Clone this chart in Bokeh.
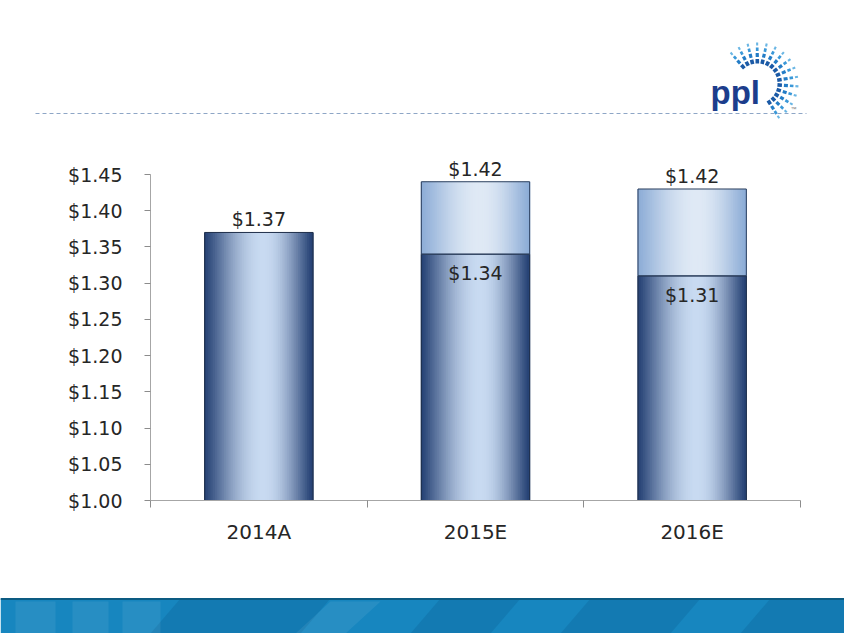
import math
from bokeh.plotting import figure
from bokeh.models import ColumnDataSource, Range1d, FixedTicker, NumeralTickFormatter, LinearAxis
from bokeh.core.properties import value
from bokeh.embed import file_html
from bokeh.resources import INLINE

# ---------------- data ----------------
categories = ["2014A", "2015E", "2016E"]
base_values = [1.37, 1.34, 1.31]          # actual EPS / low end of range
upper_values = [None, 1.44, 1.43]         # top of the forecast range segment
top_labels = ["$1.37", "$1.42", "$1.42"]
inner_labels = ["", "$1.34", "$1.31"]
y_ticks = [1.00, 1.05, 1.10, 1.15, 1.20, 1.25, 1.30, 1.35, 1.40, 1.45]
axis_min = 1.00
axis_max = 1.45

# ---------------- page layout (pixels) ----------------
W, H = 844, 633
AX_LEFT, AX_RIGHT = 150, 800      # pixel x of category-axis start / end
AX_BOTTOM, AX_TOP = 500, 174      # pixel y of axis_min / axis_max
n_cat = len(categories)
sx = (AX_RIGHT - AX_LEFT) / n_cat
sy = (AX_BOTTOM - AX_TOP) / (axis_max - axis_min)

FONT = "DejaVu Sans"
TXT = "#262626"

p = figure(width=W, height=H,
           x_range=Range1d((0 - AX_LEFT) / sx, (W - AX_LEFT) / sx),
           y_range=Range1d(axis_min + (AX_BOTTOM - H) / sy, axis_min + AX_BOTTOM / sy),
           x_axis_location=None, y_axis_location=None,
           output_backend="svg", toolbar_location=None, min_border=0)
p.extra_x_ranges = {"px": Range1d(0, W)}
p.extra_y_ranges = {"py": Range1d(H, 0)}
p.grid.visible = False
p.outline_line_color = None
p.background_fill_color = "white"
p.border_fill_color = "white"

# ---------------- header: logo + dashed rule ----------------
cx, cy = 757, 83
ray_angles = [131 - k * 13.5 for k in range(15)]
ray_parts = [((20, 24.5), "#1b5aa6", 3.6), ((26.5, 30.5), "#237cc6", 3.2),
             ((32.5, 36), "#3a98d8", 2.7), ((38, 41), "#6ab6e4", 2.1)]
for (r0, r1), col, lw in ray_parts:
    x0s, y0s, x1s, y1s = [], [], [], []
    for a in ray_angles:
        ar = math.radians(a)
        x0s.append(cx + r0 * math.cos(ar)); y0s.append(cy - r0 * math.sin(ar))
        x1s.append(cx + r1 * math.cos(ar)); y1s.append(cy - r1 * math.sin(ar))
    p.segment(x0=x0s, y0=y0s, x1=x1s, y1=y1s, line_color=col, line_width=lw,
              x_range_name="px", y_range_name="py")

p.text(x=[710], y=[92], text=["ppl"], text_font=value("Liberation Sans"),
       text_font_style="bold", text_font_size="33px", text_color="#1c3d8c",
       text_baseline="alphabetic", text_align="left", x_range_name="px", y_range_name="py")
p.text(x=[790], y=[108], text=["™"], text_font=value("Liberation Sans"),
       text_font_size="6px", text_color="#777777", text_baseline="alphabetic",
       x_range_name="px", y_range_name="py")
p.line(x=[35, 806], y=[113, 113], line_color="#8ea6c6", line_width=1, line_dash="4 3",
       x_range_name="px", y_range_name="py")

# ---------------- footer banner ----------------
p.quad(left=[0], right=[W], top=[598], bottom=[H], fill_color="#1786bf", line_color=None,
       x_range_name="px", y_range_name="py")
p.patches(xs=[[180, 330, 300, 150], [440, 520, 490, 410], [590, 700, 670, 560], [770, 844, 844, 740]],
          ys=[[598, 598, 633, 633]] * 4,
          fill_color="#0b5f90", fill_alpha=0.28, line_color=None,
          x_range_name="px", y_range_name="py")
p.patches(xs=[[15, 55, 55, 15], [72, 108, 108, 72], [122, 160, 160, 122], [330, 380, 345, 295]],
          ys=[[601, 601, 633, 633]] * 4,
          fill_color="#ffffff", fill_alpha=0.07, line_color=None,
          x_range_name="px", y_range_name="py")
p.segment(x0=[0], y0=[598.5], x1=[W], y1=[598.5], line_color="#0c5b82", line_width=2,
          x_range_name="px", y_range_name="py")

# ---------------- bars with horizontal gradient ----------------
xs = [i + 0.5 for i in range(n_cat)]
BW = 0.5
N = 60


def shade(t, dark, light, peak=0.55):
    u = t / peak if t < peak else (1 - t) / (1 - peak)
    s = math.sin(u * math.pi / 2) ** 1.15
    rgb = [round(d + (l - d) * s) for d, l in zip(dark, light)]
    return "#%02x%02x%02x" % tuple(rgb)


LOW_DARK, LOW_LIGHT = (36, 64, 115), (200, 218, 241)
UP_DARK, UP_LIGHT = (140, 172, 214), (223, 233, 245)

sxs, sb, st, sc = [], [], [], []
for i, x in enumerate(xs):
    for k in range(N):
        t = (k + 0.5) / N
        xx = x - BW / 2 + t * BW
        sxs.append(xx); sb.append(axis_min); st.append(base_values[i])
        sc.append(shade(t, LOW_DARK, LOW_LIGHT))
        if upper_values[i] is not None:
            sxs.append(xx); sb.append(base_values[i]); st.append(upper_values[i])
            sc.append(shade(t, UP_DARK, UP_LIGHT))
strips = ColumnDataSource(dict(x=sxs, bottom=sb, top=st, color=sc))
p.vbar(x="x", bottom="bottom", top="top", width=BW / N * 1.6, source=strips,
       fill_color="color", line_color=None)

# outlines
p.vbar(x=xs, width=BW, bottom=axis_min, top=base_values, fill_color=None,
       line_color="#1f2f4a", line_width=1)
ux = [x for x, u in zip(xs, upper_values) if u is not None]
ub = [b for b, u in zip(base_values, upper_values) if u is not None]
ut = [u for u in upper_values if u is not None]
p.vbar(x=ux, width=BW, bottom=ub, top=ut, fill_color=None,
       line_color="#2b3f5e", line_width=1)

# data labels
label_y = [u if u is not None else b for b, u in zip(base_values, upper_values)]
p.text(x=xs, y=label_y, text=top_labels, text_font=value(FONT), text_font_size="19px",
       text_color=TXT, text_align="center", text_baseline="alphabetic", y_offset=-13)
ix = [x for x, s in zip(xs, inner_labels) if s]
iy = [b for b, s in zip(base_values, inner_labels) if s]
it = [s for s in inner_labels if s]
p.text(x=ix, y=iy, text=it, text_font=value(FONT), text_font_size="19px",
       text_color=TXT, text_align="center", text_baseline="alphabetic", y_offset=19)

# ---------------- axes ----------------
xaxis = LinearAxis(fixed_location=axis_min)
xaxis.ticker = FixedTicker(ticks=xs, minor_ticks=list(range(n_cat + 1)))
xaxis.major_label_overrides = {x: c for x, c in zip(xs, categories)}
xaxis.bounds = (0, n_cat)
xaxis.axis_line_color = "#a6a6a6"
xaxis.major_tick_line_color = None
xaxis.major_tick_out = 7
xaxis.major_tick_in = 0
xaxis.minor_tick_out = 7
xaxis.minor_tick_in = 0
xaxis.minor_tick_line_color = "#8c8c8c"
xaxis.major_label_standoff = 12
xaxis.major_label_text_font = FONT
xaxis.major_label_text_font_size = "20px"
xaxis.major_label_text_color = TXT
p.add_layout(xaxis, "below")

yaxis = LinearAxis(fixed_location=0)
yaxis.ticker = FixedTicker(ticks=y_ticks)
yaxis.formatter = NumeralTickFormatter(format="$0.00")
yaxis.bounds = (axis_min, axis_max)
yaxis.axis_line_color = "#a6a6a6"
yaxis.major_tick_line_color = "#8c8c8c"
yaxis.major_tick_out = 6
yaxis.major_tick_in = 0
yaxis.minor_tick_line_color = None
yaxis.major_label_standoff = 22
yaxis.major_label_text_font = FONT
yaxis.major_label_text_font_size = "19px"
yaxis.major_label_text_color = TXT
p.add_layout(yaxis, "left")

open("out.html", "w").write(file_html(p, INLINE))
